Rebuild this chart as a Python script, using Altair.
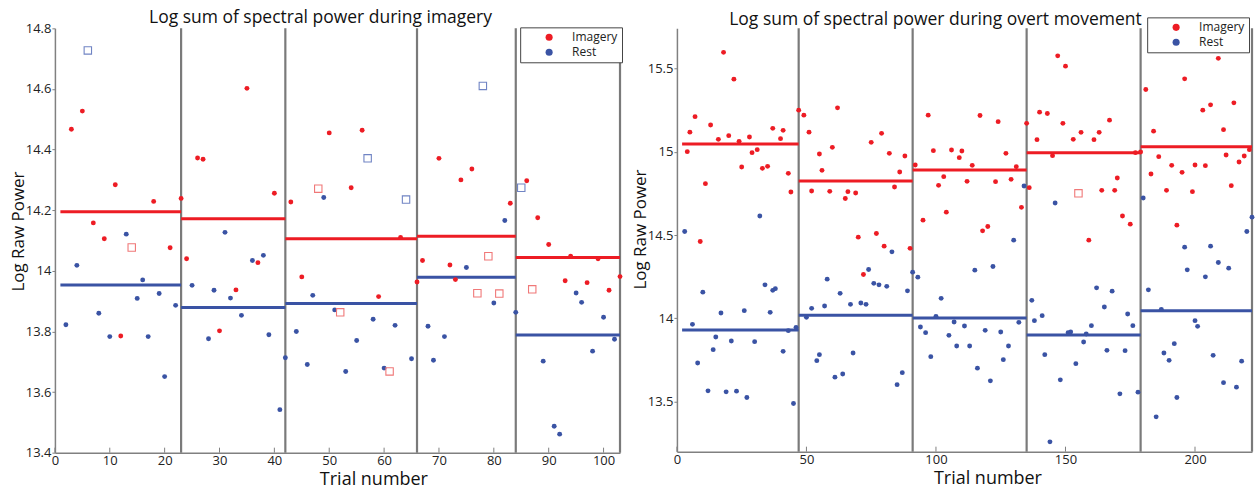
import altair as alt
import pandas as pd

FONT = "Open Sans"
RED = "#ED1C24"
BLUE = "#3A53A4"
RED_SQ = "#F07878"
BLUE_SQ = "#7084C4"
SEP = "#7a7a7a"
AX = "#808080"

# ---------------- Left panel: imagery ----------------
L_img_trial = [3, 5, 7, 9, 11, 12, 18, 21, 23,
               24, 26, 27, 30, 33, 35, 37, 40,
               43, 45, 50, 54, 56, 59, 63, 66,
               67, 70, 72, 73, 74, 76, 83, 86,
               88, 90, 93, 94, 97, 99, 101, 103]
L_img_power = [14.467, 14.527, 14.158, 14.106, 14.284, 13.785, 14.229, 14.076, 14.239,
               14.04, 14.372, 14.368, 13.802, 13.937, 14.602, 14.027, 14.256,
               14.227, 13.98, 14.455, 14.274, 14.464, 13.915, 14.110, 13.963,
               14.034, 14.371, 14.019, 13.971, 14.3, 14.336, 14.223, 14.297,
               14.175, 14.087, 13.967, 14.048, 13.961, 14.04, 13.936, 13.981]
L_rest_trial = [2, 4, 8, 10, 13, 15, 16, 17, 19, 20, 22,
                25, 28, 29, 31, 32, 34, 36, 38, 39, 41, 42,
                44, 46, 47, 49, 51, 53, 55, 58, 60, 62, 65,
                68, 69, 71, 75, 80, 82, 84,
                89, 91, 92, 95, 96, 98, 100, 102]
L_rest_power = [13.822, 14.018, 13.86, 13.783, 14.121, 13.909, 13.97, 13.783, 13.925, 13.651, 13.886,
                13.952, 13.776, 13.936, 14.127, 13.91, 13.853, 14.034, 14.051, 13.789, 13.542, 13.713,
                13.8, 13.691, 13.919, 14.242, 13.871, 13.668, 13.77, 13.84, 13.679, 13.82, 13.71,
                13.817, 13.705, 13.783, 14.011, 13.894, 14.166, 13.863,
                13.702, 13.487, 13.461, 13.927, 13.896, 13.735, 13.847, 13.774]
L_img_out_trial = [14, 48, 52, 61, 77, 79, 81, 87]
L_img_out_power = [14.077, 14.271, 13.863, 13.668, 13.926, 14.048, 13.925, 13.939]
L_rest_out_trial = [6, 57, 64, 78, 85]
L_rest_out_power = [14.727, 14.371, 14.235, 14.61, 14.274]
L_block_start = [1, 23, 42, 66, 84]
L_block_end = [23, 42, 66, 84, 103]
L_img_mean = [14.195, 14.172, 14.106, 14.114, 14.044]
L_rest_mean = [13.953, 13.879, 13.892, 13.979, 13.788]
L_xticks = [0, 10, 20, 30, 40, 50, 60, 70, 80, 90, 100]
L_yticks = [13.4, 13.6, 13.8, 14.0, 14.2, 14.4, 14.6, 14.8]

# ---------------- Right panel: overt movement ----------------
R_img_trial = [4, 5, 7, 9, 11, 13, 16, 18, 20, 22, 24, 25, 28, 29, 31, 33, 35, 37, 40, 41, 43, 44, 47,
               49, 51, 52, 55, 56, 59, 60, 62, 65, 66, 69, 70, 72, 75, 77, 79, 80, 82, 84, 86, 88, 90,
               92, 95, 97, 99, 101, 103, 104, 106, 109, 110, 112, 114, 117, 118, 120, 123, 124, 127, 129, 131, 133, 135,
               136, 139, 140, 143, 145, 147, 149, 150, 153, 156, 159, 161, 163, 164, 167, 169, 170, 172, 175, 177, 179,
               181, 183, 184, 186, 189, 191, 193, 195, 196, 199, 200, 203, 204, 206, 209, 211, 212, 214, 215, 217, 219, 221]
R_img_power = [15.0, 15.117, 15.21, 14.461, 14.808, 15.16, 15.074, 15.596, 15.096, 15.435, 15.062, 14.908, 15.088,
               14.994, 15.012, 14.9, 14.912, 15.14, 15.078, 15.128, 14.87, 14.758, 15.249,
               15.219, 15.117, 14.764, 14.986, 14.888, 14.762, 15.026, 15.263, 14.719, 14.76, 14.752, 14.487, 14.263,
               15.056, 14.509, 15.11, 14.433, 14.99, 14.788, 14.878, 14.974, 14.42,
               14.92, 14.589, 15.219, 15.006, 14.798, 14.85, 14.637, 15.01, 14.964, 15.004, 14.822, 14.918, 15.217,
               14.525, 14.551, 14.82, 15.18, 14.99, 14.834, 14.91, 14.666, 15.17,
               14.784, 15.072, 15.237, 15.229, 14.976, 15.575, 15.17, 15.513, 15.074, 15.116, 14.469, 15.072, 15.116,
               14.768, 15.189, 14.768, 14.842, 14.614, 14.565, 14.994, 14.998,
               15.373, 14.866, 15.123, 14.97, 14.768, 14.918, 14.559, 14.876, 15.437, 14.76, 14.92, 15.249, 14.916,
               15.281, 15.56, 15.132, 14.98, 14.796, 15.293, 14.938, 14.974, 15.012]
R_rest_trial = [3, 6, 8, 10, 12, 14, 15, 17, 19, 21, 23, 26, 27, 30, 32, 34, 36, 37, 38, 41, 43, 45, 46,
                50, 52, 54, 55, 57, 58, 61, 63, 64, 67, 68, 71, 73, 74, 76, 78, 81, 83, 85, 87, 89, 91,
                93, 94, 96, 98, 100, 102, 105, 107, 108, 111, 113, 115, 116, 119, 121, 122, 125, 126, 128, 130, 132, 134,
                137, 138, 141, 142, 144, 146, 148, 151, 152, 154, 157, 158, 160, 162, 165, 166, 168, 171, 173, 174, 176, 178,
                180, 182, 185, 187, 188, 190, 192, 193, 196, 197, 200, 201, 204, 206, 207, 209, 211, 213, 216, 218, 220, 222]
R_rest_power = [14.521, 13.964, 13.732, 14.157, 13.565, 13.812, 13.888, 14.032, 13.559, 13.864, 13.563, 14.046,
                13.525, 13.86, 14.614, 14.201, 14.036, 14.168, 14.178, 13.802, 13.926, 13.489, 13.946,
                14.006, 14.06, 13.746, 13.782, 14.074, 14.235, 13.647, 14.15, 13.666, 14.084, 13.792, 14.092, 14.084,
                14.293, 14.21, 14.201, 14.192, 14.399, 13.602, 13.674, 14.165, 14.277,
                14.247, 13.948, 13.914, 13.77, 14.012, 14.12, 13.898, 13.978, 13.834, 13.954, 13.834, 14.289, 13.701,
                13.928, 13.625, 14.311, 13.918, 13.752, 13.834, 14.469, 13.976, 14.794,
                14.108, 13.986, 14.016, 13.782, 13.259, 14.692, 13.631, 13.914, 13.918, 13.728, 13.858, 13.906, 13.956,
                14.183, 14.068, 13.808, 14.163, 13.547, 13.806, 14.026, 13.956, 13.557,
                14.722, 14.171, 13.409, 14.054, 13.792, 13.748, 13.848, 13.525, 14.427, 14.291, 13.986, 13.952, 14.249,
                14.433, 13.778, 14.335, 13.614, 14.301, 13.587, 13.743, 14.521, 14.607]
R_img_out_trial = [155]
R_img_out_power = [14.75]
R_rest_out_trial = []
R_rest_out_power = []
R_block_start = [2, 47, 91, 135, 179]
R_block_end = [47, 91, 135, 179, 222]
R_img_mean = [15.046, 14.824, 14.89, 14.994, 15.03]
R_rest_mean = [13.93, 14.018, 14.002, 13.9, 14.046]
R_xticks = [0, 50, 100, 150, 200]
R_yticks = [13.5, 14.0, 14.5, 15.0, 15.5]


def panel(title, title_dx, title_offset, img_x, img_y, rest_x, rest_y, io_x, io_y, ro_x, ro_y,
          b_start, b_end, img_mean, rest_mean, xdom, ydom, xticks, yticks,
          width, height, legend_x, legend_y, xtitle_x, ytitle_y):
    xs = alt.Scale(domain=xdom, nice=False, zero=False)
    ys = alt.Scale(domain=ydom, nice=False, zero=False)
    xaxis = alt.Axis(values=xticks, format="d", title="Trial number", grid=False,
                     tickSize=0, labelPadding=2, labelFontSize=13, labelFont=FONT,
                     labelColor="#222", domainColor=AX, domainWidth=1.5,
                     titleFont=FONT, titleFontSize=18, titleFontWeight="normal",
                     titleColor="#111", titlePadding=0, maxExtent=18, minExtent=18,
                     titleX=xtitle_x, labelFlush=False)
    yaxis = alt.Axis(values=yticks, format=".3~g", title="Log Raw Power", grid=False,
                     tickSize=3, tickColor=AX, labelPadding=1, labelFontSize=13, labelFont=FONT,
                     labelColor="#222", domainColor=AX, domainWidth=1.5,
                     titleFont=FONT, titleFontSize=17, titleFontWeight="normal",
                     titleColor="#111", titlePadding=0, minExtent=27, maxExtent=27,
                     titleY=ytitle_y)
    X = lambda f: alt.X(f, type="quantitative", scale=xs, axis=xaxis)
    Y = lambda f: alt.Y(f, type="quantitative", scale=ys, axis=yaxis)

    dots = pd.DataFrame({
        "trial": img_x + rest_x,
        "power": img_y + rest_y,
        "series": ["Imagery"] * len(img_x) + ["Rest"] * len(rest_x),
    })
    outl = pd.DataFrame({
        "trial": io_x + ro_x,
        "power": io_y + ro_y,
        "col": [RED_SQ] * len(io_x) + [BLUE_SQ] * len(ro_x),
    })
    means = pd.DataFrame({
        "start": b_start + b_start,
        "end": b_end + b_end,
        "power": img_mean + rest_mean,
        "col": [RED] * len(img_mean) + [BLUE] * len(rest_mean),
    })
    seps = pd.DataFrame({"pos": b_end[:-1] + [xdom[1]]})
    ticks = pd.DataFrame({"t": xticks})

    sep_layer = alt.Chart(seps).mark_rule(color=SEP, strokeWidth=2.2).encode(x=X("pos"))
    tick_layer = alt.Chart(ticks).mark_rule(color=AX, strokeWidth=1).encode(
        x=X("t"), y=alt.value(height), y2=alt.value(height - 5))
    mean_layer = alt.Chart(means).mark_rule(strokeWidth=3).encode(
        x=X("start"), x2="end", y=Y("power"), color=alt.Color("col:N", scale=None))
    dot_layer = alt.Chart(dots).mark_circle(size=24, opacity=1).encode(
        x=X("trial"), y=Y("power"),
        color=alt.Color("series:N",
                        scale=alt.Scale(domain=["Imagery", "Rest"], range=[RED, BLUE]),
                        legend=alt.Legend(title=None, orient="none", legendX=legend_x, legendY=legend_y,
                                          strokeColor="#444", fillColor="white", padding=4,
                                          symbolType="circle", symbolSize=50, symbolOffset=19,
                                          symbolStrokeWidth=0, labelOffset=17, labelFontSize=12,
                                          labelFont=FONT, labelColor="#222", rowPadding=3)))
    layers = [sep_layer, tick_layer, mean_layer, dot_layer]
    if len(outl):
        out_layer = alt.Chart(outl).mark_point(shape="square", filled=False, size=55, strokeWidth=1.1,
                                               opacity=1).encode(
            x=X("trial"), y=Y("power"), color=alt.Color("col:N", scale=None))
        layers.append(out_layer)
    return alt.layer(*layers).resolve_scale(color="independent").properties(
        width=width, height=height,
        title=alt.TitleParams(text=title, font=FONT, fontSize=17.5, fontWeight="normal",
                              color="#111", anchor="middle", dx=title_dx, offset=title_offset,
                              frame="group"))


left = panel("Log sum of spectral power during imagery", -17, -4,
             L_img_trial, L_img_power, L_rest_trial, L_rest_power,
             L_img_out_trial, L_img_out_power, L_rest_out_trial, L_rest_out_power,
             L_block_start, L_block_end, L_img_mean, L_rest_mean,
             [0, 103], [13.4, 14.8], L_xticks, L_yticks, 566, 425, 466, -1, 319, 203)
right = panel("Log sum of spectral power during overt movement", -29, -12,
              R_img_trial, R_img_power, R_rest_trial, R_rest_power,
              R_img_out_trial, R_img_out_power, R_rest_out_trial, R_rest_out_power,
              R_block_start, R_block_end, R_img_mean, R_rest_mean,
              [0, 222], [13.2, 15.74], R_xticks, R_yticks, 576, 424, 471, -11, 311, 201)

chart = alt.hconcat(left, right, spacing=9).resolve_scale(color="independent").properties(
    padding={"left": 10, "top": 8, "right": 0, "bottom": 0},
    background="white",
).configure_view(stroke=None)

chart.save("out.html", embed_options={"renderer": "svg", "actions": False})
